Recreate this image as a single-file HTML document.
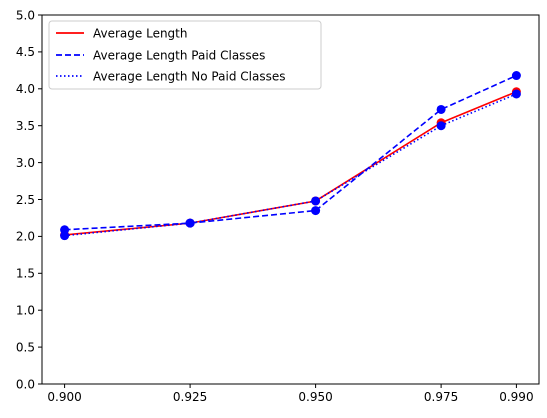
<!DOCTYPE html>
<html><head><meta charset="utf-8"><style>
body{margin:0;background:#fff;}
svg{display:block;font-family:"DejaVu Sans","Liberation Sans",sans-serif;}
</style></head><body>
<svg id="chart" width="547" height="418">
<rect x="0" y="0" width="547" height="418" fill="#fff"/>
<g id="plot"></g>
<g id="axes"></g>
<g id="legend">
  <rect x="49" y="21" width="272" height="68" rx="3" fill="#fff" fill-opacity="0.8" stroke="#ccc"/>
  <line x1="56" y1="33" x2="84" y2="33" stroke="red" stroke-width="1.8"/>
  <text x="93" y="37.5" font-size="12">Average Length</text>
  <line x1="56" y1="55" x2="84" y2="55" stroke="blue" stroke-width="1.8" stroke-dasharray="6,3"/>
  <text x="93" y="59.5" font-size="12">Average Length Paid Classes</text>
  <line x1="56" y1="76" x2="84" y2="76" stroke="blue" stroke-width="1.8" stroke-dasharray="1.5,2.5"/>
  <text x="93" y="80.5" font-size="12">Average Length No Paid Classes</text>
</g>
</svg>
<script>
const categories=[0.900,0.925,0.950,0.975,0.990];
const xTickLabels=["0.900","0.925","0.950","0.975","0.990"];
const avgValues=[2.02,2.18,2.48,3.54,3.96];
const paidValues=[2.09,2.18,2.35,3.72,4.18];
const noPaidValues=[2.01,2.18,2.48,3.50,3.93];
const yTicks=[0,0.5,1,1.5,2,2.5,3,3.5,4,4.5,5];
const yTickLabels=["0.0","0.5","1.0","1.5","2.0","2.5","3.0","3.5","4.0","4.5","5.0"];

const L=42,R=539,T=15,B=384;
const xMin=0.8955,xMax=0.9945;
function xs(v){return L+(v-xMin)/(xMax-xMin)*(R-L);}
function ys(v){return B-(v/5)*(B-T);}
const NS="http://www.w3.org/2000/svg";
const plot=document.getElementById('plot'),axes=document.getElementById('axes');
function mk(tag,attrs,parent){const e=document.createElementNS(NS,tag);for(const k in attrs)e.setAttribute(k,attrs[k]);parent.appendChild(e);return e;}

function series(vals,color,dash,markerColor,name){
  const pts=vals.map((v,i)=>xs(categories[i]).toFixed(2)+','+ys(v).toFixed(2)).join(' ');
  const pl=mk('polyline',{points:pts,fill:'none',stroke:color,'stroke-width':1.6,'stroke-dasharray':dash},plot);
  
  
  vals.forEach((v,i)=>{
    const c=mk('circle',{cx:xs(categories[i]),cy:ys(v),r:4.5,fill:markerColor},plot);
    
    
  });
}
series(avgValues,'red','none','red','average');
series(paidValues,'blue','6,3','blue','paid');
series(noPaidValues,'blue','1.5,2.5','blue','no-paid');

const frame=mk('rect',{x:L,y:T,width:R-L,height:B-T,fill:'none',stroke:'#000','stroke-width':1},axes);


yTicks.forEach((v,i)=>{
  const y=ys(v);
  const t=mk('line',{x1:L-4,x2:L,y1:y,y2:y,stroke:'#000'},axes);
  
  
  const tx=mk('text',{x:L-7,y:y+4.3,'font-size':12,'text-anchor':'end'},axes);
  tx.textContent=yTickLabels[i];
  
  
});
categories.forEach((v,i)=>{
  const x=xs(v);
  const t=mk('line',{x1:x,x2:x,y1:B,y2:B+4,stroke:'#000'},axes);
  
  
  const tx=mk('text',{x:x,y:B+17,'font-size':12,'text-anchor':'middle'},axes);
  tx.textContent=xTickLabels[i];
  
  
});
</script>
</body></html>
